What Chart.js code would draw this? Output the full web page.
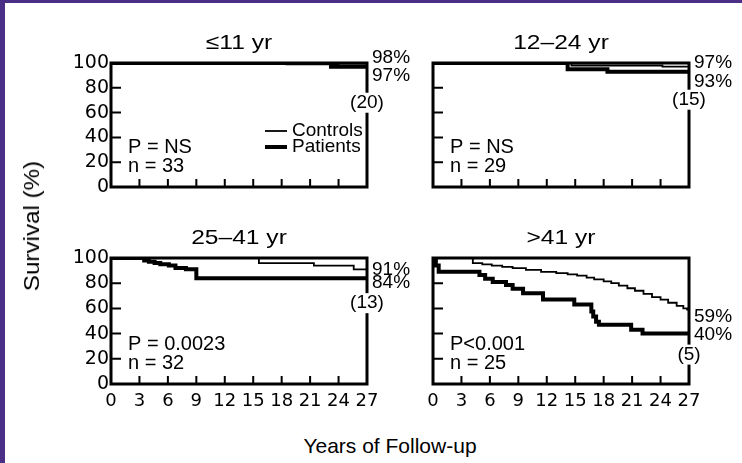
<!DOCTYPE html>
<html>
<head>
<meta charset="utf-8">
<title>Survival by age group</title>
<script src="https://cdn.jsdelivr.net/npm/chart.js@4.4.0/dist/chart.umd.min.js"></script>
<style>
  html, body { margin: 0; padding: 0; background: #fff; }
  #page {
    position: relative; width: 742px; height: 463px; overflow: hidden; background: #fff;
    font-family: "Liberation Sans", Arial, Helvetica, sans-serif; color: #000;
  }
  .edge-top { position: absolute; left: 0; top: 0; width: 742px; height: 3px; background: #4b2e86; }
  .edge-left { position: absolute; left: 0; top: 0; width: 5px; height: 463px; background: #4b2e86; }
  canvas { position: absolute; }
  #ytitle {
    position: absolute; left: 32px; top: 226px; white-space: nowrap; font-size: 22px;
    transform: translate(-50%, -50%) rotate(-90deg) scaleX(1.1);
  }
  #xtitle {
    position: absolute; left: 390px; top: 446px; white-space: nowrap; font-size: 21px;
    transform: translate(-50%, -50%);
  }
</style>
</head>
<body>
<div id="page">
  <div class="edge-top"></div>
  <div class="edge-left"></div>
  <canvas id="p1" width="370" height="205" style="left:41px;top:18px"></canvas>
  <canvas id="p2" width="370" height="205" style="left:363px;top:18px"></canvas>
  <canvas id="p3" width="370" height="205" style="left:41px;top:213px"></canvas>
  <canvas id="p4" width="370" height="205" style="left:363px;top:213px"></canvas>
  <div id="ytitle">Survival (%)</div>
  <div id="xtitle">Years of Follow-up</div>
</div>
<script>
// axes
const yearTicks = [0, 3, 6, 9, 12, 15, 18, 21, 24, 27];
const survTicks = [0, 20, 40, 60, 80, 100];

// one panel per age group
const ageGroups = ['≤11 yr', '12–24 yr', '25–41 yr', '>41 yr'];
const pLabels = ['P = NS', 'P = NS', 'P = 0.0023', 'P<0.001'];
const nPatients = [33, 29, 32, 25];
const atRisk = [20, 15, 13, 5];

// Kaplan-Meier steps: year of each drop and survival (%) from then on
const ctlYears1 = [0, 18.5, 24.0, 27];
const ctlSurv1 = [100, 99, 98, 98];
const patYears1 = [0, 23.2, 27];
const patSurv1 = [100, 97, 97];

const ctlYears2 = [0, 14.6, 24.2, 27];
const ctlSurv2 = [100, 98, 97, 97];
const patYears2 = [0, 14.2, 18.4, 27];
const patSurv2 = [100, 95, 93, 93];

const ctlYears3 = [0, 15.6, 21.4, 25.6, 27];
const ctlSurv3 = [100, 96, 94, 91, 91];
const patYears3 = [0, 3.5, 4.0, 4.6, 5.2, 6.1, 6.8, 7.9, 9.0, 27];
const patSurv3 = [100, 98, 97, 96, 95, 94, 92, 91, 84, 84];

const ctlYears4 = [0, 4.2, 5.2, 6.2, 7.3, 8.4, 9.8, 11.4, 13.0, 14.2, 15.2, 16.2, 17.0, 18.0,
  18.8, 19.6, 20.5, 21.3, 22.2, 23.1, 24.0, 24.8, 25.7, 26.4, 26.8, 27];
const ctlSurv4 = [100, 96, 95, 94, 93, 92, 90.5, 89, 88, 87, 86, 84.5, 83, 81.5,
  80, 78, 76, 74, 71.5, 69, 67, 64.5, 62, 60, 59, 59];
const patYears4 = [0, 0.3, 0.6, 4.9, 5.5, 6.3, 7.7, 8.4, 9.5, 11.6, 14.9, 16.7, 16.9,
  17.2, 17.5, 20.9, 22.1, 27];
const patSurv4 = [100, 94, 89, 86.5, 83.5, 81, 78.5, 75.5, 72, 67, 63, 57.5, 53.5,
  49.5, 47, 43, 40, 40];

const FONT = '"Liberation Sans", Arial, Helvetica, sans-serif';
const TICK_FONT = '"DejaVu Sans", ' + FONT;
Chart.defaults.font.family = FONT;
Chart.defaults.color = '#000';

// per-panel layout: plot height, which axes carry labels, nudges for the end labels
const panels = [
  { id: 'p1', h: 124, xLabels: false, yLabels: true, legend: true,
    ctl: [ctlYears1, ctlSurv1], pat: [patYears1, patSurv1], nudge: [-8, 9, 36] },
  { id: 'p2', h: 124, xLabels: false, yLabels: false, legend: false,
    ctl: [ctlYears2, ctlSurv2], pat: [patYears2, patSurv2], nudge: [-4, 10, 28] },
  { id: 'p3', h: 126, xLabels: true, yLabels: true, legend: false,
    ctl: [ctlYears3, ctlSurv3], pat: [patYears3, patSurv3], nudge: [0, 5, 25] },
  { id: 'p4', h: 126, xLabels: true, yLabels: false, legend: false,
    ctl: [ctlYears4, ctlSurv4], pat: [patYears4, patSurv4], nudge: [7, 1, 21] }
];

function steps(xs, ys) {
  return xs.map((x, i) => ({ x: x, y: ys[i] }));
}

// frame, inward tick marks and all the text that sits on the plot
const panelDecor = {
  id: 'panelDecor',
  beforeDatasetsDraw(chart, args, opts) {
    const { ctx, chartArea: a, scales: { x, y } } = chart;
    ctx.save();
    ctx.strokeStyle = '#000';
    ctx.lineWidth = 2;
    ctx.beginPath();
    x.ticks.forEach(t => {
      const px = x.getPixelForValue(t.value);
      ctx.moveTo(px, a.bottom);
      ctx.lineTo(px, a.bottom - 8);
    });
    y.ticks.forEach(t => {
      const py = y.getPixelForValue(t.value);
      ctx.moveTo(a.left, py);
      ctx.lineTo(a.left + 10, py);
    });
    ctx.stroke();
    ctx.lineWidth = 3;
    ctx.strokeRect(a.left, a.top, a.right - a.left, a.bottom - a.top);
    ctx.restore();
  },
  afterDatasetsDraw(chart, args, opts) {
    const { ctx, chartArea: a, scales: { y } } = chart;
    const i = opts.index;
    const p = panels[i];
    const [ctlSet, patSet] = chart.data.datasets;
    const ctlEnd = ctlSet.data[ctlSet.data.length - 1].y;
    const patEnd = patSet.data[patSet.data.length - 1].y;
    const ctlPx = y.getPixelForValue(ctlEnd);
    const patPx = y.getPixelForValue(patEnd);

    ctx.save();
    ctx.fillStyle = '#000';

    // age group heading, set a little wide
    ctx.save();
    ctx.font = '21px ' + FONT;
    ctx.textAlign = 'center';
    ctx.textBaseline = 'alphabetic';
    ctx.translate((a.left + a.right) / 2, a.top - 14);
    ctx.scale(1.17, 1);
    ctx.fillText(ageGroups[i], 0, 0);
    ctx.restore();

    // survival at end of follow-up
    ctx.font = '19px ' + FONT;
    ctx.textAlign = 'left';
    ctx.textBaseline = 'middle';
    ctx.fillText(ctlEnd + '%', a.right + 5, ctlPx + p.nudge[0]);
    ctx.fillText(patEnd + '%', a.right + 5, patPx + p.nudge[1]);

    // patients still at risk
    const riskText = '(' + atRisk[i] + ')';
    const ry = patPx + p.nudge[2];
    const rw = ctx.measureText(riskText).width;
    ctx.fillStyle = '#fff';
    ctx.fillRect(a.right - rw / 2 - 1, ry - 10, rw + 2, 20);
    ctx.fillStyle = '#000';
    ctx.textAlign = 'center';
    ctx.fillText(riskText, a.right, ry);

    // test result and group size
    ctx.font = '20px ' + FONT;
    ctx.textAlign = 'left';
    ctx.fillText(pLabels[i], a.left + 17, a.bottom - 40);
    ctx.fillText('n = ' + nPatients[i], a.left + 17, a.bottom - 21);

    if (p.legend) {
      const lx = a.right - 102;
      [ctlSet, patSet].forEach((ds, k) => {
        const ly = a.top + 68 + k * 16;
        ctx.strokeStyle = '#000';
        ctx.lineWidth = ds.borderWidth;
        ctx.beginPath();
        ctx.moveTo(lx, ly);
        ctx.lineTo(lx + 22, ly);
        ctx.stroke();
        ctx.font = '19px ' + FONT;
        ctx.fillText(ds.label, lx + 27, ly);
      });
    }
    ctx.restore();
  }
};

panels.forEach((p, i) => {
  new Chart(document.getElementById(p.id), {
    type: 'line',
    data: {
      datasets: [
        {
          label: 'Controls',
          data: steps(p.ctl[0], p.ctl[1]),
          stepped: true,
          borderColor: '#000',
          borderWidth: 1.8,
          pointRadius: 0,
          fill: false
        },
        {
          label: 'Patients',
          data: steps(p.pat[0], p.pat[1]),
          stepped: true,
          borderColor: '#000',
          borderWidth: 4,
          pointRadius: 0,
          fill: false
        }
      ]
    },
    options: {
      responsive: false,
      animation: false,
      devicePixelRatio: 1,
      layout: {
        padding: { left: 30, top: 45, right: 44, bottom: 205 - 45 - p.h - 26 }
      },
      scales: {
        x: {
          type: 'linear',
          min: 0,
          max: 27,
          afterBuildTicks: s => { s.ticks = yearTicks.map(v => ({ value: v })); },
          afterFit: s => { s.height = 26; },
          grid: { display: false, drawTicks: false },
          border: { display: false },
          ticks: {
            display: p.xLabels, padding: 7, maxRotation: 0, autoSkip: false,
            font: { family: TICK_FONT, size: 18 }
          }
        },
        y: {
          min: 0,
          max: 100,
          afterBuildTicks: s => { s.ticks = survTicks.map(v => ({ value: v })); },
          afterFit: s => { s.width = 40; },
          grid: { display: false, drawTicks: false },
          border: { display: false },
          ticks: {
            display: p.yLabels, padding: 2, autoSkip: false,
            font: { family: TICK_FONT, size: 19 }
          }
        }
      },
      plugins: {
        legend: { display: false },
        tooltip: { enabled: false },
        panelDecor: { index: i }
      }
    },
    plugins: [panelDecor]
  });
});
</script>
</body>
</html>
